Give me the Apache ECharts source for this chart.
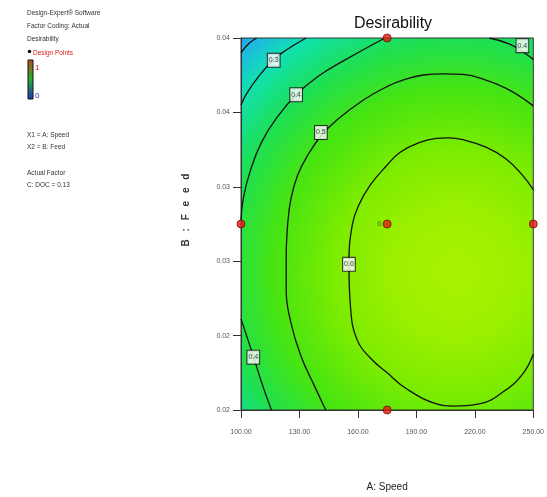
<!DOCTYPE html>
<html>
<head>
<meta charset="utf-8">
<script src="https://cdn.jsdelivr.net/npm/echarts@6/dist/echarts.min.js"></script>
<style>html,body{margin:0;padding:0;background:#fff;}#c{width:547px;height:497px;}</style>
</head>
<body>
<div id="c"></div>
<script>
// ---- data ----
const speedTicks = [100, 130, 160, 190, 220, 250];
const feedTicks = [0.02, 0.024, 0.028, 0.032, 0.036, 0.04];
const designPoints = [[175, 0.04], [100, 0.03], [175, 0.03], [250, 0.03], [175, 0.02]];
const centerReplicates = '6';

const contour02 = [[108, 0.04], [104, 0.0397], [100, 0.0392]];
const contour03 = [[133.4, 0.04], [122.4, 0.0393], [116.4, 0.0388], [108.8, 0.0379], [102.8, 0.0370], [100, 0.0364]];
const contour04Left = [[173.9, 0.04], [154.6, 0.03889], [139.3, 0.03792], [128.3, 0.03695], [119.0, 0.0358], [110.5, 0.03439], [104.6, 0.0328], [101.2, 0.03139], [100, 0.0302]];
const contour04Bottom = [[100, 0.0249], [106.3, 0.0229], [110.5, 0.0215], [115.6, 0.02]];
const contour04Right = [[227.4, 0.04], [237.6, 0.03968], [246.1, 0.03915], [250, 0.03884]];
const contour05 = [[250, 0.03635], [237.6, 0.03721], [225.7, 0.03774], [213.9, 0.03804], [203.9, 0.03807], [193.6, 0.03801], [183.4, 0.03775], [174.9, 0.03739], [163.0, 0.03668], [149.5, 0.03562], [141.6, 0.03481], [134.2, 0.03369], [129.1, 0.03263], [125.7, 0.03139], [124.0, 0.03005], [123.2, 0.02819], [123.2, 0.02642], [125.7, 0.02466], [130.8, 0.02289], [137.6, 0.02131], [143.5, 0.02]];
const contour06 = [[250, 0.0230], [244.4, 0.02192], [234.2, 0.02095], [222.3, 0.02033], [208.8, 0.02021], [200.3, 0.02033], [185.1, 0.02113], [174.9, 0.02201], [166.5, 0.02278], [159.6, 0.02377], [156.2, 0.02554], [155.4, 0.02783], [157.1, 0.02995], [160.4, 0.03101], [166.4, 0.0321], [174.9, 0.03316], [181.7, 0.03386], [191.8, 0.03439], [200.3, 0.0346], [206.4, 0.03463], [213.9, 0.03453], [225.7, 0.03413], [235.9, 0.03351], [244.4, 0.03263], [250, 0.03185]];
const contourLabels = [[116.8, 0.0388, '0.3'], [128.3, 0.03695, '0.4'], [141.0, 0.03492, '0.5'], [155.4, 0.02783, '0.6'], [106.3, 0.02284, '0.4'], [244.4, 0.03959, '0.4']];

const infoLines = ['Design-Expert\u00ae Software', 'Factor Coding: Actual', 'Desirability'];
const factorLines = ['X1 = A: Speed', 'X2 = B: Feed'];
const actualLines = ['Actual Factor', 'C: DOC = 0.13'];
const yAxisTitle = 'B\u2002 :\u2002 F\u2002 e\u2002 e\u2002 d';

// ---- chart ----
const FONT = '"Liberation Sans Narrow", "Liberation Sans", Arial, sans-serif';
const chart = echarts.init(document.getElementById('c'), null, {renderer: 'canvas'});

function contourSeries(data) {
  return {
    type: 'line', data: data, smooth: 0.45, showSymbol: false, symbol: 'none',
    lineStyle: {color: '#111', width: 1.3}, silent: true, z: 3, animation: false
  };
}

const contours = [contour02, contour03, contour04Left, contour04Bottom, contour04Right, contour05, contour06];

const option = {
  animation: false,
  title: {
    text: 'Desirability', left: 388, top: 11, textAlign: 'center',
    textStyle: {fontFamily: FONT, fontSize: 16, fontWeight: 'normal', color: '#111'}
  },
  grid: {
    left: 241, top: 38, width: 295, height: 378, show: true,
    borderColor: '#333', borderWidth: 1,
    backgroundColor: {
      type: 'radial', x: 0.735, y: 0.63, r: 1.1,
      colorStops: [
        {offset: 0, color: '#a8f200'},
        {offset: 0.2, color: '#9cf000'},
        {offset: 0.37, color: '#7eec00'},
        {offset: 0.57, color: '#46e412'},
        {offset: 0.72, color: '#1ee052'},
        {offset: 0.86, color: '#10e0b0'},
        {offset: 0.96, color: '#20b4e8'},
        {offset: 1, color: '#2a84e0'}
      ]
    }
  },
  xAxis: {
    type: 'value', min: speedTicks[0], max: speedTicks[speedTicks.length - 1],
    interval: speedTicks[1] - speedTicks[0],
    name: 'A: Speed', nameLocation: 'middle', nameGap: 72,
    nameTextStyle: {fontFamily: FONT, fontSize: 10, color: '#222'},
    axisLine: {show: true, lineStyle: {color: '#333', width: 1}},
    axisTick: {show: true, inside: false, length: 8, lineStyle: {color: '#333'}},
    axisLabel: {margin: 19, fontFamily: FONT, fontSize: 7, color: '#555', formatter: v => v.toFixed(2)},
    splitLine: {show: false}
  },
  yAxis: {
    type: 'value', min: feedTicks[0], max: feedTicks[feedTicks.length - 1],
    interval: feedTicks[1] - feedTicks[0],
    axisLine: {show: true, lineStyle: {color: '#333', width: 1}},
    axisTick: {show: true, inside: false, length: 8, lineStyle: {color: '#333'}},
    axisLabel: {margin: 11, fontFamily: FONT, fontSize: 7, color: '#555', formatter: v => v.toFixed(2)},
    splitLine: {show: false}
  },
  series: contours.map(contourSeries).concat([
    {
      type: 'scatter', z: 5, animation: false, silent: true,
      data: contourLabels.map(d => ({value: [d[0], d[1]], name: d[2]})),
      symbol: 'rect', symbolSize: 1, itemStyle: {color: 'rgba(0,0,0,0)'},
      label: {
        show: true, position: 'inside', formatter: p => p.name,
        fontFamily: FONT, fontSize: 7, color: '#111',
        backgroundColor: '#fff', borderColor: '#111', borderWidth: 1,
        padding: [3, 1, 3, 1]
      }
    },
    {
      type: 'scatter', z: 6, animation: false, silent: true, clip: false,
      data: designPoints.map((d, i) => ({
        value: d,
        label: i === 2 ? {show: true, position: 'left', distance: 1, formatter: centerReplicates,
          fontFamily: FONT, fontSize: 8, color: '#2e6a00'} : {show: false}
      })),
      symbol: 'circle', symbolSize: 8,
      itemStyle: {color: '#e01b10', borderColor: '#7a0a05', borderWidth: 1}
    }
  ]),
  graphic: [
    {
      type: 'text', x: 186, y: 210, rotation: Math.PI / 2,
      style: {text: yAxisTitle, fontFamily: FONT, fontSize: 10, fontWeight: 'bold', fill: '#333',
        align: 'center', verticalAlign: 'middle'}
    },
    ...infoLines.map((t, i) => ({
      type: 'text', left: 27, top: 10 + i * 13,
      style: {text: t, fontFamily: FONT, fontSize: 6.5, fill: '#333'}
    })),
    {type: 'circle', shape: {cx: 29.5, cy: 51.5, r: 1.8}, style: {fill: '#111'}},
    {type: 'text', left: 33, top: 50, style: {text: 'Design Points', fontFamily: FONT, fontSize: 6.5, fill: '#e02020'}},
    {
      type: 'rect', shape: {x: 28, y: 60, width: 5, height: 39},
      style: {
        stroke: '#111', lineWidth: 1,
        fill: {type: 'linear', x: 0, y: 0, x2: 0, y2: 1, colorStops: [
          {offset: 0, color: '#b84a20'}, {offset: 0.5, color: '#22b030'}, {offset: 1, color: '#2030c0'}
        ]}
      }
    },
    {type: 'text', left: 35, top: 64, style: {text: '1', fontFamily: FONT, fontSize: 8, fill: '#e02020'}},
    {type: 'text', left: 35, top: 92, style: {text: '0', fontFamily: FONT, fontSize: 8, fill: '#2030d0'}},
    ...factorLines.map((t, i) => ({
      type: 'text', left: 27, top: 132 + i * 12,
      style: {text: t, fontFamily: FONT, fontSize: 6.5, fill: '#333'}
    })),
    ...actualLines.map((t, i) => ({
      type: 'text', left: 27, top: 170 + i * 12,
      style: {text: t, fontFamily: FONT, fontSize: 6.5, fill: '#333'}
    }))
  ]
};
chart.setOption(option);
</script>
</body>
</html>
